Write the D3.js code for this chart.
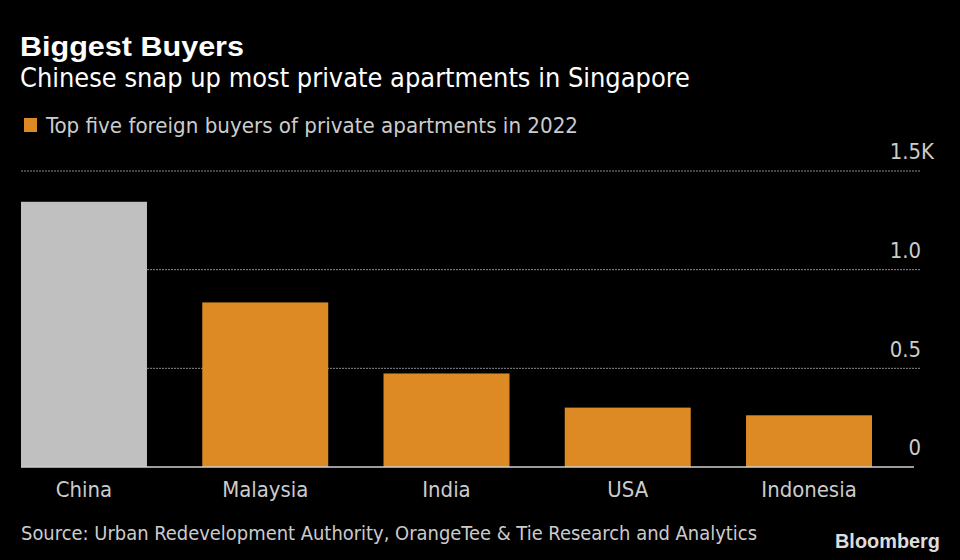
<!DOCTYPE html>
<html><head><meta charset="utf-8">
<script src="https://cdn.jsdelivr.net/npm/d3@7"></script>
<style>
html,body{margin:0;padding:0;background:#000;}
svg{display:block;}
text{font-family:"DejaVu Sans Condensed","Liberation Sans Narrow",sans-serif;}
</style></head>
<body>
<script>
const categories = ["China","Malaysia","India","USA","Indonesia"];
const values = [1344, 834, 474, 301, 262];
const tickValues = [0, 500, 1000, 1500];
const tickLabels = ["0","0.5","1.0","1.5"];
const tickSuffix = ["","","","K"];
const highlight = ["China"];

const W = 960, H = 560;
const svg = d3.select("body").append("svg").attr("width", W).attr("height", H);
svg.append("rect").attr("width", W).attr("height", H).attr("fill", "#000");

const x = d3.scaleBand().domain(categories).range([21, 872]).paddingInner(0.305).paddingOuter(0);
const y = d3.scaleLinear().domain([0, 1500]).range([467, 171]);

function fit(sel, w) {
  sel.attr("textLength", w).attr("lengthAdjust", "spacingAndGlyphs");
  return sel;
}

// titles
fit(svg.append("text").attr("x", 20).attr("y", 56).attr("fill", "#fff")
  .style("font-family", "'Liberation Sans', Arial, sans-serif").style("font-weight", "bold").style("font-size", "28px")
  .text("Biggest Buyers"), 224);
const sub = svg.append("text").attr("x", 20).attr("y", 87).attr("fill", "#fff").style("font-size", "27px")
  .text("Chinese snap up most private apartments in Singapore");
const k = 670 / sub.node().getComputedTextLength();
fit(sub, 670);

function condense(sel) {
  sel.each(function() {
    const n = this.getComputedTextLength();
    d3.select(this).attr("textLength", n * k).attr("lengthAdjust", "spacingAndGlyphs");
  });
  return sel;
}

// legend
svg.append("rect").attr("x", 24).attr("y", 118).attr("width", 13).attr("height", 14).attr("fill", "#dd8a25");
fit(svg.append("text").attr("x", 46).attr("y", 133).attr("fill", "#ccc").style("font-size", "22px")
  .text("Top five foreign buyers of private apartments in 2022"), 532);

// grid
svg.append("g").selectAll("line").data(tickValues.filter(d => d > 0)).join("line")
  .attr("x1", 21).attr("x2", 921).attr("y1", d => y(d)).attr("y2", d => y(d))
  .attr("stroke", "#8a8a8a").attr("stroke-width", 1).attr("stroke-dasharray", "2,1");

// y axis labels via axis
const yAxis = d3.axisRight(y).tickValues(tickValues).tickFormat((d, i) => tickLabels[i]).tickSize(0);
const ya = svg.append("g").attr("transform", "translate(921,0)").call(yAxis);
ya.select(".domain").remove();
ya.selectAll("text").attr("fill", "#ccc").style("font-size", "22px")
  .attr("text-anchor", "end").attr("x", 0).attr("dy", "-0.55em");
condense(ya.selectAll("text"));
ya.selectAll(".tick").append("text").attr("fill", "#ccc").style("font-size", "22px")
  .attr("text-anchor", "start").attr("x", 0).attr("dy", "-0.55em")
  .text((d, i) => tickSuffix[i]).call(condense);

// bars
svg.append("g").selectAll("rect").data(categories).join("rect")
  .attr("x", d => x(d)).attr("width", x.bandwidth())
  .attr("y", (d, i) => y(values[i])).attr("height", (d, i) => y(0) - y(values[i]))
  .attr("fill", d => highlight.includes(d) ? "#c0c0c0" : "#dd8a25");

// baseline
svg.append("line").attr("x1", 21).attr("x2", 914).attr("y1", y(0)).attr("y2", y(0))
  .attr("stroke", "#d0d0d0").attr("stroke-width", 1.5);

// x axis
const xAxis = d3.axisBottom(x).tickSize(0);
const xa = svg.append("g").attr("transform", `translate(0,${y(0)})`).call(xAxis);
xa.select(".domain").remove();
xa.selectAll("text").attr("fill", "#ccc").style("font-size", "22px").attr("dy", "0").attr("y", 30);
condense(xa.selectAll("text"));

// source
fit(svg.append("text").attr("x", 21).attr("y", 540).attr("fill", "#ccc").style("font-size", "20px")
  .text("Source: Urban Redevelopment Authority, OrangeTee & Tie Research and Analytics"), 736);
fit(svg.append("text").attr("x", 835).attr("y", 548).attr("fill", "#ddd")
  .style("font-family", "'Liberation Sans', Arial, sans-serif").style("font-weight", "bold").style("font-size", "20px")
  .text("Bloomberg"), 105);
</script>
</body></html>
